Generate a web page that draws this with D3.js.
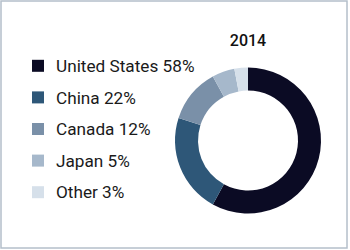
<!DOCTYPE html>
<html><head><meta charset="utf-8">
<script src="https://cdn.jsdelivr.net/npm/d3@7"></script>
<style>html,body{margin:0;padding:0;background:#fff;}svg{display:block;}</style>
</head><body>
<script>
const title = "2014";
const categories = ["United States", "China", "Canada", "Japan", "Other"];
const values = [58, 22, 12, 5, 3];
const colors = ["#0b0b24", "#2e5778", "#7a90a8", "#a6b8cb", "#d6e0ea"];

const W = 350, H = 250;
const svg = d3.select("body").append("svg").attr("width", W).attr("height", H);

svg.append("rect").attr("x", 1).attr("y", 1).attr("width", 346).attr("height", 247)
  .attr("fill", "#fff").attr("stroke", "#b4bfca").attr("stroke-width", 1.5);

const cx = 248, cy = 140.5, rOuter = 73, rInner = 50;
const pie = d3.pie().sort(null).value(d => d);
const arc = d3.arc().innerRadius(rInner).outerRadius(rOuter);
const g = svg.append("g").attr("transform", `translate(${cx},${cy})`);
g.selectAll("path").data(pie(values)).join("path")
  .attr("d", arc).attr("fill", (d, i) => colors[i]);

svg.append("text").attr("x", cx).attr("y", 46).attr("text-anchor", "middle")
  .attr("font-family", "Roboto, sans-serif").attr("font-size", 16).attr("font-weight", 500)
  .attr("fill", "#111").text(title);

const y = d3.scaleBand().domain(categories).range([50, 208]);
const leg = svg.append("g");
const rows = leg.selectAll("g").data(categories).join("g")
  .attr("transform", d => `translate(0,${y(d) + y.bandwidth() / 2})`);
rows.append("rect").attr("x", 32).attr("y", -6).attr("width", 12).attr("height", 12)
  .attr("fill", (d, i) => colors[i]);
rows.append("text").attr("x", 56).attr("y", 0).attr("dy", "0.36em")
  .attr("font-family", "Roboto, sans-serif").attr("font-size", 17.2)
  .attr("fill", "#1a1a1a").text((d, i) => `${d} ${values[i]}%`);
</script>
</body></html>
